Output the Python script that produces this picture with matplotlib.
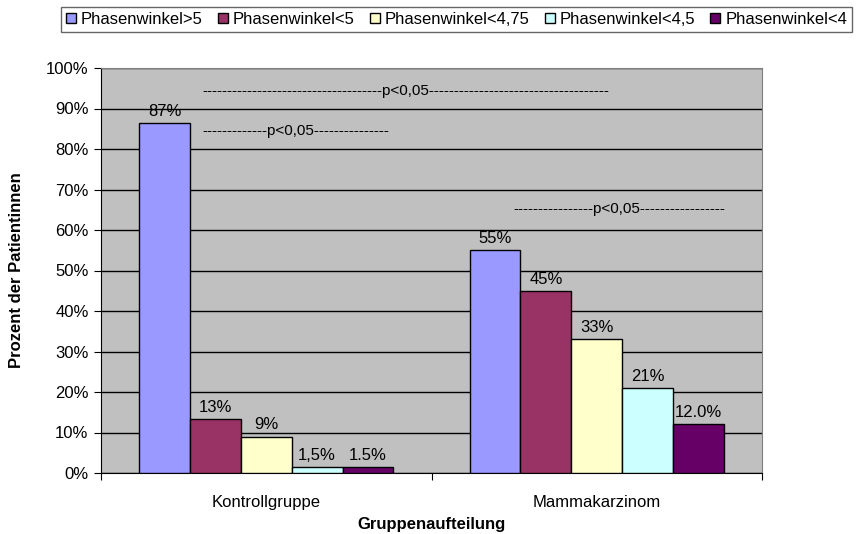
import matplotlib
matplotlib.use("Agg")
import matplotlib.pyplot as plt
import numpy as np
from matplotlib.patches import Patch

plt.rcParams.update({"font.family": "Liberation Sans", "font.size": 12})

# ── Daten ──────────────────────────────────────────────────────────────────────
gruppen = ["Kontrollgruppe", "Mammakarzinom"]
serien = ["Phasenwinkel>5", "Phasenwinkel<5", "Phasenwinkel<4,75",
          "Phasenwinkel<4,5", "Phasenwinkel<4"]
werte = {
    "Phasenwinkel>5": [86.5, 55],
    "Phasenwinkel<5": [13.4, 45],
    "Phasenwinkel<4,75": [9, 33],
    "Phasenwinkel<4,5": [1.5, 21],
    "Phasenwinkel<4": [1.5, 12],
}
beschriftung = {
    "Phasenwinkel>5": ["87%", "55%"],
    "Phasenwinkel<5": ["13%", "45%"],
    "Phasenwinkel<4,75": ["9%", "33%"],
    "Phasenwinkel<4,5": ["1,5%", "21%"],
    "Phasenwinkel<4": ["1.5%", "12.0%"],
}
farben = ["#9999FF", "#993366", "#FFFFCC", "#CCFFFF", "#660066"]

# Signifikanz-Hinweise: (x links, y, Striche links, Striche rechts)
hinweise = [(-0.194, 94.3, 36, 36), (-0.194, 84.4, 13, 15), (0.747, 65.2, 16, 17)]

# ── Figur ──────────────────────────────────────────────────────────────────────
W, H = 858, 534
fig = plt.figure(figsize=(W / 100, H / 100), dpi=100)
ax = fig.add_axes([101 / W, 61 / H, 661 / W, 405 / H])
ax.set_facecolor("#C0C0C0")

x = np.arange(len(gruppen))
breite = 1 / 6.5
for i, (name, farbe) in enumerate(zip(serien, farben)):
    pos = x + (i - 2) * breite
    ax.bar(pos, werte[name], breite, color=farbe, edgecolor="black",
           linewidth=1.0, zorder=3)
    for xp, v, lab in zip(pos, werte[name], beschriftung[name]):
        ax.annotate(lab, (xp, v), xytext=(0, 3), textcoords="offset points",
                    ha="center", va="bottom", fontsize=12, zorder=4)

for xl, y, nl, nr in hinweise:
    ax.text(xl, y, "-" * nl + "p<0,05" + "-" * nr, ha="left", va="center",
            fontsize=11, zorder=4)

ax.set_xlim(-0.5, 1.5)
ax.set_ylim(0, 100)
ax.set_yticks(np.arange(0, 101, 10))
ax.set_yticklabels([f"{v}%" for v in range(0, 101, 10)], fontsize=12)
ax.yaxis.grid(True, color="black", linewidth=1.0, zorder=1)
ax.set_axisbelow(True)

ax.set_xticks([-0.5, 0.5, 1.5])
ax.set_xticklabels([])
ax.set_xticks(x, minor=True)
ax.set_xticklabels(gruppen, minor=True, fontsize=12)
ax.tick_params(axis="x", which="minor", length=0, pad=16)
ax.tick_params(axis="x", which="major", length=5, direction="out")
ax.tick_params(axis="y", length=5, direction="out", pad=4)

for s in ["top", "right"]:
    ax.spines[s].set_color("#808080")
for s in ["left", "bottom"]:
    ax.spines[s].set_color("black")

ax.set_xlabel("Gruppenaufteilung", fontsize=12, fontweight="bold", labelpad=5)
ax.set_ylabel("Prozent der Patientinnen", fontsize=12, fontweight="bold",
              labelpad=16)

handles = [Patch(facecolor=f, edgecolor="black", linewidth=1.0) for f in farben]
leg = fig.legend(handles, serien, ncol=5, loc="upper left",
                 bbox_to_anchor=(61 / W, 1 - 7 / H), fontsize=12,
                 frameon=True, fancybox=False, edgecolor="#404040",
                 handlelength=0.6, handleheight=0.6, handletextpad=0.3,
                 columnspacing=0.9, borderpad=0.3, borderaxespad=0)
leg.get_frame().set_linewidth(1.0)

fig.savefig("out.png", dpi=100)
